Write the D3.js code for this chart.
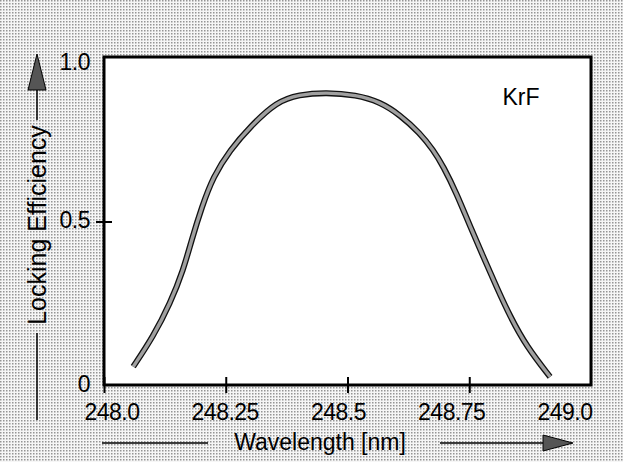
<!DOCTYPE html>
<html><head><meta charset="utf-8">
<script src="https://cdn.jsdelivr.net/npm/d3@7"></script>
<style>html,body{margin:0;padding:0;background:#fff;}svg{display:block;}</style>
</head><body>
<svg id="chart" width="623" height="462"></svg>
<script>
const wavelength = [248.060,248.101,248.136,248.163,248.180,248.201,248.224,248.259,248.300,248.355,248.400,248.456,248.518,248.566,248.608,248.649,248.676,248.697,248.724,248.752,248.779,248.806,248.834,248.868,248.916];
const efficiency = [0.056,0.148,0.250,0.352,0.444,0.545,0.637,0.719,0.790,0.867,0.888,0.895,0.887,0.866,0.826,0.770,0.719,0.668,0.586,0.484,0.392,0.300,0.209,0.117,0.025];
const xTicks = [248.0,248.25,248.5,248.75,249.0];
const xTickLabels = ["248.0","248.25","248.5","248.75","249.0"];
const yTicks = [0,0.5,1.0];
const yTickLabels = ["0","0.5","1.0"];

const svg = d3.select("#chart");
const W = 623, H = 462;
const font = "'Liberation Sans', Arial, Helvetica, sans-serif";

// scanned-paper background
const defs = svg.append("defs");
const pat = defs.append("pattern").attr("id","dots").attr("width",3).attr("height",3).attr("patternUnits","userSpaceOnUse");
pat.append("rect").attr("width",3).attr("height",3).attr("fill","#f4f4f4");
pat.append("rect").attr("x",0).attr("y",0).attr("width",1.5).attr("height",1.5).attr("fill","#7a7a7a");
svg.append("rect").attr("width",W).attr("height",H).attr("fill","url(#dots)").attr("opacity",0.8);

const x = d3.scaleLinear().domain([248,249]).range([104,591]);
const xLab = d3.scaleLinear().domain([248,249]).range([112,565]);
const y = d3.scaleLinear().domain([0,1]).range([385,58]);

// plot area
svg.append("rect").attr("x",x(248)).attr("y",y(1)-1).attr("width",x(249)-x(248)).attr("height",y(0)-y(1)+1).attr("fill","#fff");

// frame
svg.append("rect").attr("x",x(248)).attr("y",y(1)-1).attr("width",x(249)-x(248)).attr("height",y(0)-y(1)+1)
  .attr("fill","none").attr("stroke","#000").attr("stroke-width",3);

// axes
const xAxis = d3.axisBottom(x).tickValues(xTicks).tickSize(0).tickFormat("");
const gx = svg.append("g").attr("transform",`translate(0,${y(0)})`).call(xAxis);
gx.select(".domain").remove();
gx.selectAll(".tick").append("line").attr("y1",-8).attr("y2",8).attr("stroke","#000").attr("stroke-width",2);
gx.selectAll(".tick").filter(d=>d===249).remove();

const yAxis = d3.axisLeft(y).tickValues(yTicks).tickSize(0).tickFormat("");
const gy = svg.append("g").attr("transform",`translate(${x(248)},0)`).call(yAxis);
gy.select(".domain").remove();
gy.selectAll(".tick").filter(d=>d===0.5).append("line").attr("x1",-8).attr("x2",8).attr("stroke","#000").attr("stroke-width",2);

// tick labels
svg.append("g").selectAll("text").data(xTicks).join("text")
  .attr("x",d=>xLab(d)).attr("y",y(0)+35).attr("text-anchor","middle")
  .attr("font-family",font).attr("font-size",23).attr("fill","#000")
  .attr("letter-spacing",-0.5)
  .text((d,i)=>xTickLabels[i]);
svg.append("g").selectAll("text").data(yTicks).join("text")
  .attr("x",x(248)-14).attr("y",d=>y(d)+(d===1?4:-1)).attr("dy","0.34em").attr("text-anchor","end")
  .attr("font-family",font).attr("font-size",23).attr("fill","#000")
  .attr("letter-spacing",-0.5)
  .text((d,i)=>yTickLabels[i]);

// curve
const line = d3.line().x((d,i)=>x(wavelength[i])).y((d,i)=>y(efficiency[i])).curve(d3.curveBasis);
svg.append("path").datum(efficiency).attr("d",line).attr("fill","none").attr("stroke","#111").attr("stroke-width",6).attr("stroke-linecap","butt");
svg.append("path").datum(efficiency).attr("d",line).attr("fill","none").attr("stroke","#a0a0a0").attr("stroke-width",3.4);

// KrF label
svg.append("text").attr("x",521).attr("y",105).attr("text-anchor","middle")
  .attr("font-family",font).attr("font-size",23).attr("fill","#000").text("KrF");

// x axis title with arrow
svg.append("text").attr("x",320).attr("y",450).attr("text-anchor","middle")
  .attr("font-family",font).attr("font-size",23).attr("fill","#000").text("Wavelength [nm]");
svg.append("line").attr("x1",102).attr("x2",208).attr("y1",443).attr("y2",443).attr("stroke","#000").attr("stroke-width",1.5);
svg.append("line").attr("x1",440).attr("x2",550).attr("y1",443).attr("y2",443).attr("stroke","#000").attr("stroke-width",1.5);
svg.append("path").attr("d","M543,435 L573,443 L543,451 Z").attr("fill","#555").attr("stroke","#000").attr("stroke-width",1);

// y axis title with arrow
svg.append("text").attr("transform","translate(46,225) rotate(-90)").attr("text-anchor","middle")
  .attr("font-family",font).attr("font-size",25).attr("fill","#000").text("Locking Efficiency");
svg.append("line").attr("x1",37).attr("x2",37).attr("y1",333).attr("y2",420).attr("stroke","#000").attr("stroke-width",1.5);
svg.append("line").attr("x1",37).attr("x2",37).attr("y1",85).attr("y2",120).attr("stroke","#000").attr("stroke-width",1.5);
svg.append("path").attr("d","M28,90 L37,54 L46,90 Z").attr("fill","#555").attr("stroke","#000").attr("stroke-width",1);
</script>
</body></html>
